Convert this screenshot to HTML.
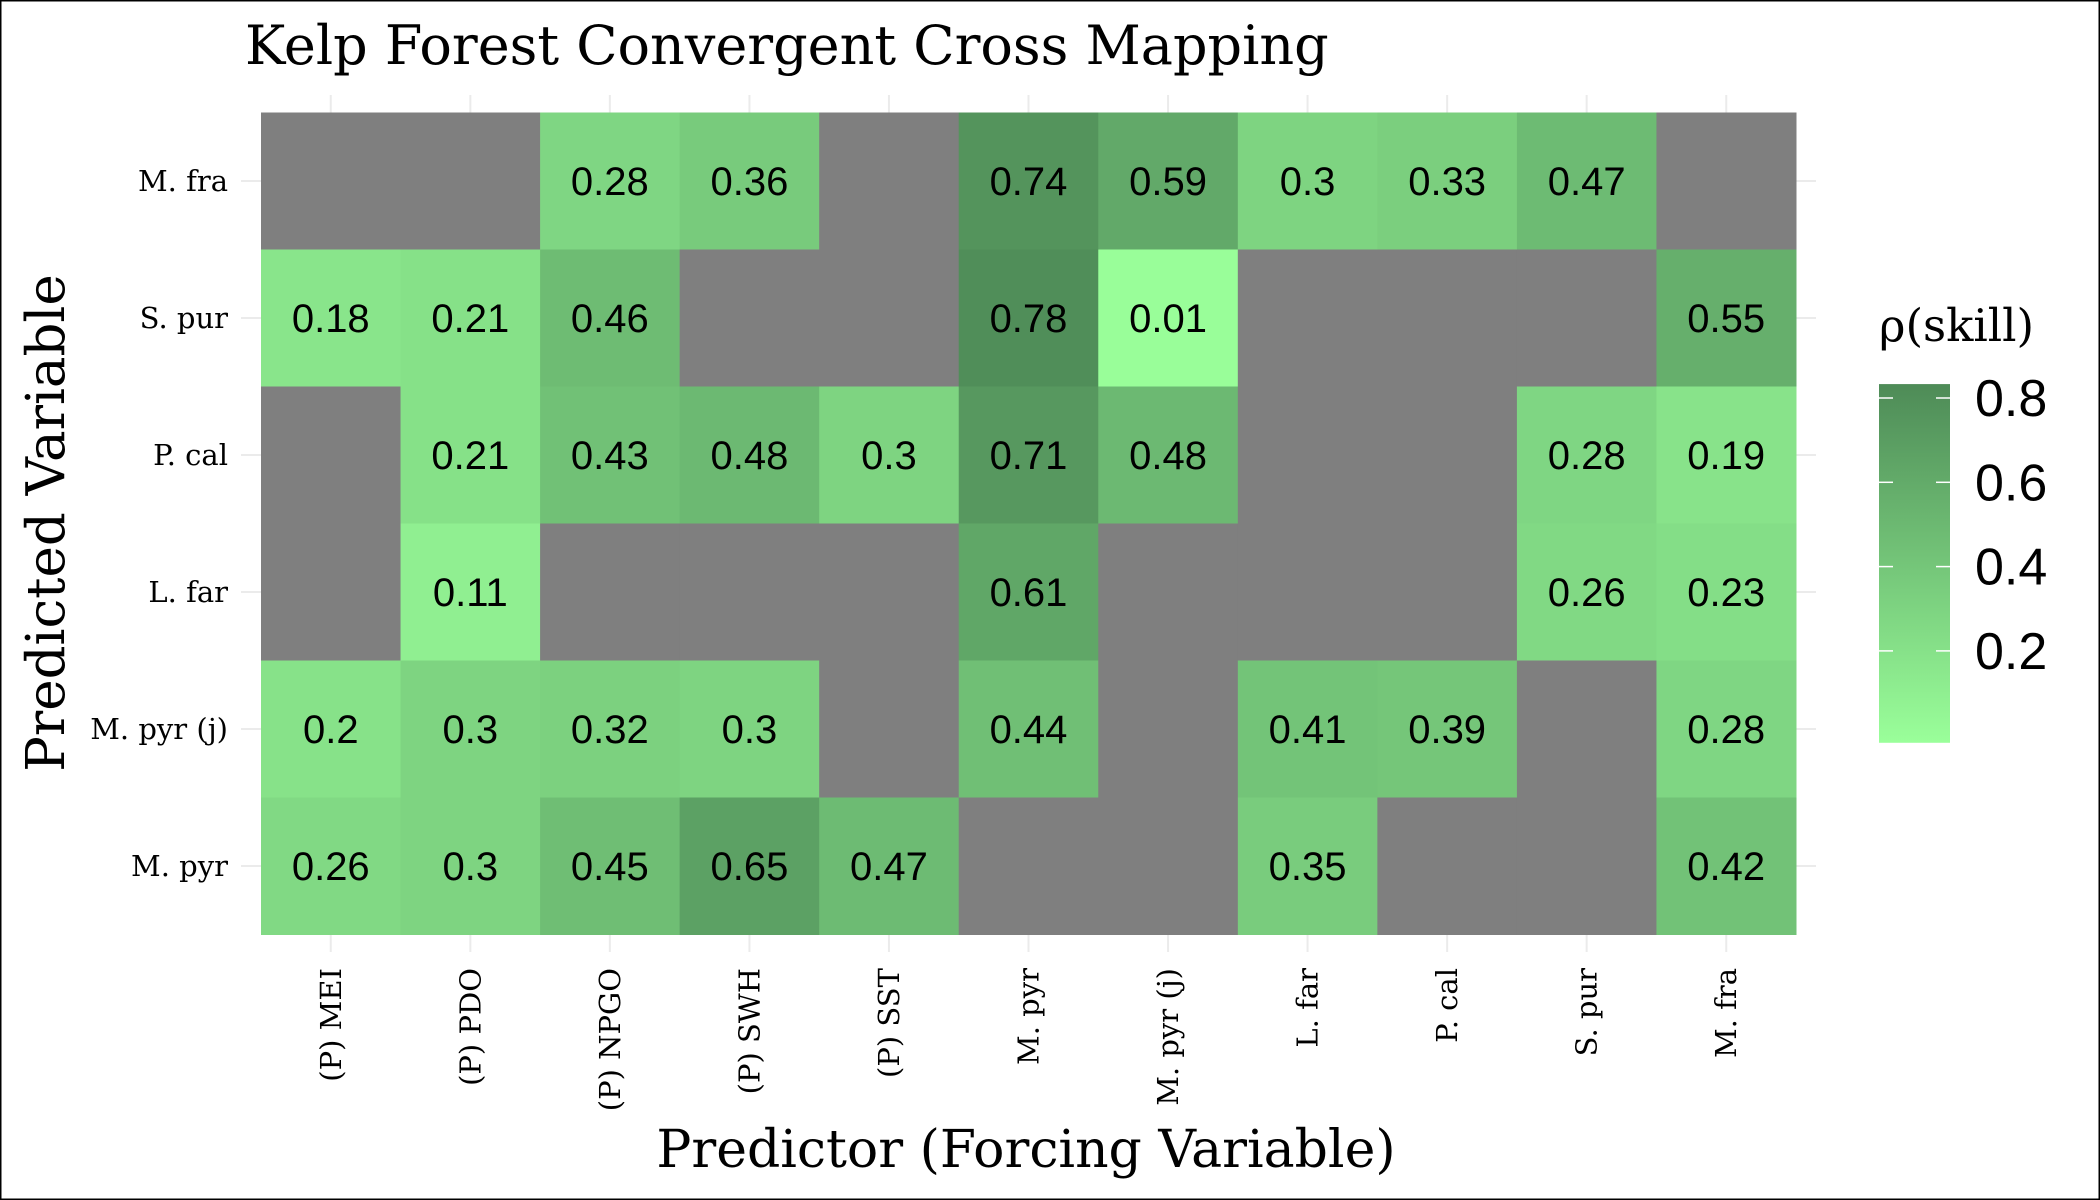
<!DOCTYPE html>
<html><head><meta charset="utf-8"><style>
html,body{margin:0;padding:0;background:#fff}
svg{display:block}
.lbl{font-family:"DejaVu Serif","Liberation Serif",serif}
.num{font-family:"Liberation Sans","DejaVu Sans",sans-serif}
</style></head><body>
<svg id="chart" width="2100" height="1200" viewBox="0 0 2100 1200">
<rect x="0.5" y="0.5" width="2099" height="1199" fill="#fff" stroke="#000" stroke-width="2"/>
<text class="lbl" x="245" y="64" font-size="54" fill="#000">Kelp Forest Convergent Cross Mapping</text>
<g id="grid"></g>
<g id="cells"></g>
<g id="xlabels"></g>
<g id="ylabels"></g>
<text class="lbl" x="1026" y="1167" font-size="52" text-anchor="middle">Predictor (Forcing Variable)</text>
<text class="lbl" transform="translate(64,523) rotate(-90)" font-size="53" text-anchor="middle">Predicted Variable</text>
<g id="legend">
<defs><linearGradient id="lg" x1="0" y1="1" x2="0" y2="0"><stop offset="0" stop-color="#9aff9a"/><stop offset="1" stop-color="#4e8b57"/></linearGradient></defs>
<text class="lbl" x="1879" y="341" font-size="45">ρ(skill)</text>
</g>
</svg>
<script>
const categoriesX=["(P) MEI","(P) PDO","(P) NPGO","(P) SWH","(P) SST","M. pyr","M. pyr (j)","L. far","P. cal","S. pur","M. fra"];
const categoriesY=["M. fra","S. pur","P. cal","L. far","M. pyr (j)","M. pyr"];
const rowMfra=[null,null,0.28,0.36,null,0.74,0.59,0.3,0.33,0.47,null];
const rowSpur=[0.18,0.21,0.46,null,null,0.78,0.01,null,null,null,0.55];
const rowPcal=[null,0.21,0.43,0.48,0.3,0.71,0.48,null,null,0.28,0.19];
const rowLfar=[null,0.11,null,null,null,0.61,null,null,null,0.26,0.23];
const rowMpyrj=[0.2,0.3,0.32,0.3,null,0.44,null,0.41,0.39,null,0.28];
const rowMpyr=[0.26,0.3,0.45,0.65,0.47,null,null,0.35,null,null,0.42];
const legendTicks=[0.2,0.4,0.6,0.8];
const rows=[rowMfra,rowSpur,rowPcal,rowLfar,rowMpyrj,rowMpyr];
const NS="http://www.w3.org/2000/svg";
const X0=261,X1=1796,Y0=112.5,Y1=934.5;
const cw=(X1-X0)/categoriesX.length,ch=(Y1-Y0)/categoriesY.length;
const xPos=i=>X0+i*cw, yPos=j=>Y0+j*ch;
const lo=[154,255,154],hi=[78,139,87],VMAX=0.8;
function col(v){const t=Math.max(0,Math.min(1,v/VMAX));return "rgb("+lo.map((c,k)=>Math.round(c+(hi[k]-c)*t)).join(",")+")";}
function mk(tag,attrs,parent){const e=document.createElementNS(NS,tag);for(const k in attrs)e.setAttribute(k,attrs[k]);parent.appendChild(e);return e;}
const grid=document.getElementById("grid");
categoriesX.forEach((c,i)=>{const l=mk("line",{x1:xPos(i)+cw/2,x2:xPos(i)+cw/2,y1:95,y2:952,stroke:"#ebebeb","stroke-width":2},grid);

});
categoriesY.forEach((c,j)=>{const l=mk("line",{x1:241,x2:1816,y1:yPos(j)+ch/2,y2:yPos(j)+ch/2,stroke:"#ebebeb","stroke-width":2},grid);

});
const cells=document.getElementById("cells");
rows.forEach((r,j)=>r.forEach((v,i)=>{
const rc=mk("rect",{x:xPos(i),y:yPos(j),width:cw+0.5,height:ch+0.5,fill:v===null?"#7f7f7f":col(v)},cells);


if(v!==null){const t=mk("text",{x:xPos(i)+cw/2,y:yPos(j)+ch/2+14,"text-anchor":"middle","font-size":40,class:"num",fill:"#000"},cells);
t.textContent=String(v);

}
}));
const xl=document.getElementById("xlabels");
categoriesX.forEach((c,i)=>{const t=mk("text",{class:"lbl","font-size":29,"text-anchor":"end",transform:"translate("+(xPos(i)+cw/2+10)+",968) rotate(-90)"},xl);
t.textContent=c;

});
const yl=document.getElementById("ylabels");
categoriesY.forEach((c,j)=>{const t=mk("text",{class:"lbl","font-size":29,"text-anchor":"end",x:228,y:yPos(j)+ch/2+10},yl);
t.textContent=c;

});
const lg=document.getElementById("legend");
const ly=v=>398+(0.8-v)*421.5;
const bar=mk("rect",{x:1879,y:ly(0.833),width:71,height:ly(-0.018)-ly(0.833),fill:"url(#lg)"},lg);


legendTicks.forEach(v=>{
mk("line",{x1:1879,x2:1893,y1:ly(v),y2:ly(v),stroke:"#fff","stroke-width":1.5},lg);
mk("line",{x1:1936,x2:1950,y1:ly(v),y2:ly(v),stroke:"#fff","stroke-width":1.5},lg);
const t=mk("text",{class:"num",x:1975,y:ly(v)+18,"font-size":52},lg);
t.textContent=v.toFixed(1);

});
</script>
</body></html>
